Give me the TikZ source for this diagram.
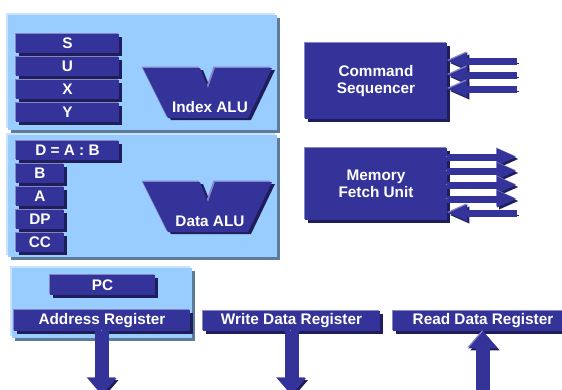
\documentclass[tikz,border=0pt]{standalone}
\usepackage{fontspec}
\setmainfont{Liberation Sans}
\usetikzlibrary{arrows.meta}
\definecolor{regfill}{HTML}{333399}
\definecolor{reglite}{HTML}{8585C6}
\definecolor{regdark}{HTML}{1E1E5A}
\definecolor{panelfill}{HTML}{99CCFF}
\definecolor{panellite}{HTML}{C8E2FF}
\definecolor{paneldark}{HTML}{5E7C99}

\begin{document}
\begin{tikzpicture}[x=0.75pt,y=-0.75pt]
    \tikzstyle{every node}=[inner sep=0pt, font=\fontsize{11.5}{13}\selectfont\bfseries]
    \tikzstyle{panel}=[fill=panelfill,
        preaction={fill=paneldark, transform canvas={shift={(3,3)}}},
        preaction={fill=panellite, transform canvas={shift={(-2,-2)}}}]
    \tikzstyle{reg}=[fill=regfill, text=white, minimum height=14.25pt,
        preaction={fill=regdark, transform canvas={shift={(3,3)}}},
        preaction={fill=reglite, transform canvas={shift={(-1.5,-1.5)}}}]
    \tikzstyle{alu}=[fill=regfill,
        preaction={fill=regdark, transform canvas={shift={(3,2)}}},
        preaction={fill=reglite, transform canvas={shift={(-1.5,-1.5)}}}]
    \tikzstyle{fat}=[line width=5.25pt, draw=regfill, -{Triangle[length=15pt,width=11.5pt]},
        preaction={draw=regdark, transform canvas={shift={(2,2)}}},
        preaction={draw=reglite, transform canvas={shift={(-1,-1)}}}]
    \tikzstyle{bigfat}=[fat, line width=10.5pt, -{Triangle[length=12.75pt,width=21pt]}]

    \useasboundingbox (0,0) rectangle (562,390);
    \clip (0,0) rectangle (562,390);

    % Register panels
    \node[panel, minimum width=201.75pt, minimum height=86.25pt] (P-index) at (142.5,72.5) {};
    \node[panel, minimum width=201.75pt, minimum height=91.5pt] (P-data) at (142.5,196) {};
    \node[panel, minimum width=135pt, minimum height=52.5pt] (P-addr) at (102,303) {};

    % Index registers
    \foreach \name / \y in {S/43.5,U/66.5,X/89.5,Y/112.5}
        \node[reg, minimum width=77.25pt] (R-\name) at (67.5,\y) {\name};

    % Data registers
    \node[reg, minimum width=77.25pt] (R-D) at (67.5,150.5) {D = A : B};
    \foreach \name / \y in {B/173.5,A/196.5,DP/219.5,CC/242.5}
        \node[reg, minimum width=36pt] (R-\name) at (40,\y) {\name};

    % ALUs
    \foreach \name / \dy in {Index/0,Data/114} {
        \fill[alu] (143,68+\dy) -- (200,68+\dy) -- (208,88+\dy) -- (215,68+\dy)
            -- (272,68+\dy) -- (248,118+\dy) -- (168,118+\dy) -- cycle;
        \node[text=white] (ALU-\name) at (210,107+\dy) {\name\ ALU};
    }

    % Control units
    \node[reg, minimum width=106.5pt, minimum height=57pt, align=center] (cmd) at (376,81) {Command\\Sequencer};
    \node[reg, minimum width=106.5pt, minimum height=54pt, align=center] (mem) at (376,184) {Memory\\Fetch Unit};

    % Bus registers
    \node[reg, minimum width=78.75pt, minimum height=15pt] (pc) at (102.5,285) {PC};
    \node[reg, minimum width=132pt, minimum height=15.75pt] (addr) at (102,320.5) {Address Register};
    \node[reg, minimum width=132.75pt, minimum height=15pt] (wdr) at (291.5,321) {Write Data Register};
    \node[reg, minimum width=135pt, minimum height=15pt] (rdr) at (483,321) {Read Data Register};

    % Arrows
    \foreach \i / \y in {1/61,2/75,3/89} {
        \coordinate (cin-\i) at (517,\y);
        \draw[fat] (cin-\i) -- (cmd.east |- cin-\i);
    }
    \foreach \i / \y in {1/157,2/171,3/185,4/199} {
        \coordinate (mout-\i) at (517,\y);
        \draw[fat] (mem.east |- mout-\i) -- (mout-\i);
    }
    \coordinate (min-1) at (517,213);
    \draw[fat] (min-1) -- (mem.east |- min-1);

    \coordinate (aout) at (102,395);
    \coordinate (wout) at (291.5,395);
    \coordinate (rin) at (483,400);
    \draw[bigfat] (addr.south) -- (aout);
    \draw[bigfat] (wdr.south) -- (wout);
    \draw[bigfat] (rin) -- (rdr.south);
\end{tikzpicture}
\end{document}
